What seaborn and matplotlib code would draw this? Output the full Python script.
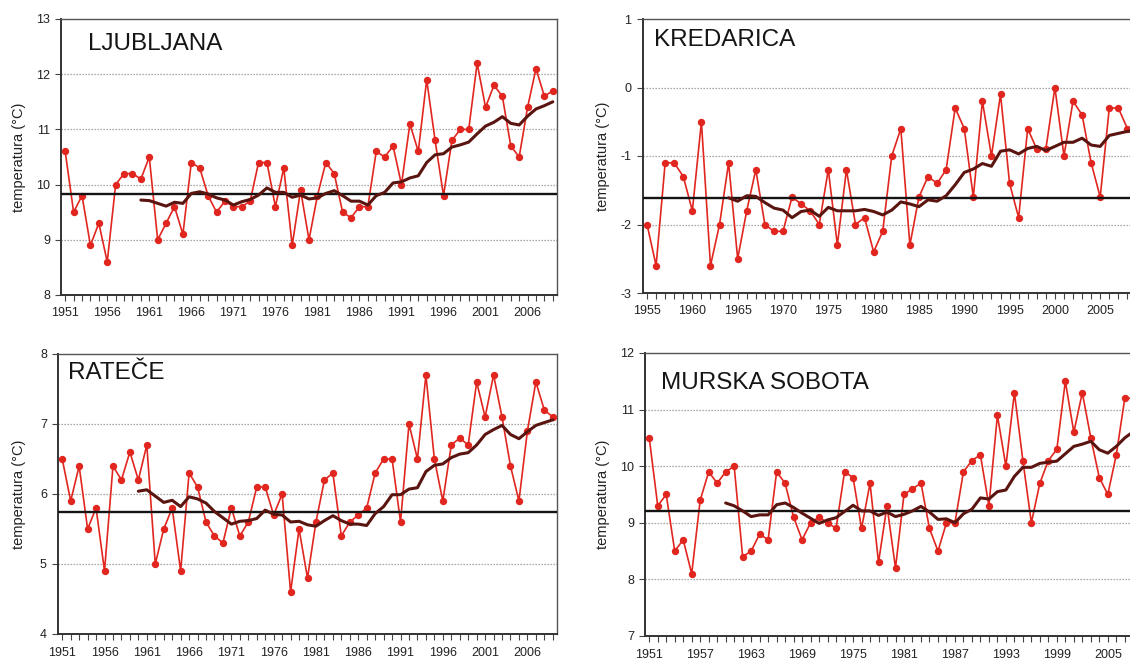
import numpy as np
import pandas as pd
import matplotlib
matplotlib.use("Agg")
import matplotlib.pyplot as plt
from matplotlib.ticker import MultipleLocator, FixedLocator
import seaborn as sns

# Mean annual air temperature at four Slovenian stations
ljubljana_years = list(range(1951, 2010))
ljubljana_temp = [
    10.6, 9.5, 9.8, 8.9, 9.3, 8.6, 10.0, 10.2, 10.2, 10.1,
    10.5, 9.0, 9.3, 9.6, 9.1, 10.4, 10.3, 9.8, 9.5, 9.7,
    9.6, 9.6, 9.7, 10.4, 10.4, 9.6, 10.3, 8.9, 9.9, 9.0,
    9.8, 10.4, 10.2, 9.5, 9.4, 9.6, 9.6, 10.6, 10.5, 10.7,
    10.0, 11.1, 10.6, 11.9, 10.8, 9.8, 10.8, 11.0, 11.0, 12.2,
    11.4, 11.8, 11.6, 10.7, 10.5, 11.4, 12.1, 11.6, 11.7,
]

kredarica_years = list(range(1955, 2010))
kredarica_temp = [
    -2.0, -2.6, -1.1, -1.1, -1.3, -1.8,
    -0.5, -2.6, -2.0, -1.1, -2.5, -1.8, -1.2, -2.0, -2.1, -2.1,
    -1.6, -1.7, -1.8, -2.0, -1.2, -2.3, -1.2, -2.0, -1.9, -2.4,
    -2.1, -1.0, -0.6, -2.3, -1.6, -1.3, -1.4, -1.2, -0.3, -0.6,
    -1.6, -0.2, -1.0, -0.1, -1.4, -1.9, -0.6, -0.9, -0.9, 0.0,
    -1.0, -0.2, -0.4, -1.1, -1.6, -0.3, -0.3, -0.6, -0.7,
]

ratece_years = list(range(1951, 2010))
ratece_temp = [
    6.5, 5.9, 6.4, 5.5, 5.8, 4.9, 6.4, 6.2, 6.6, 6.2,
    6.7, 5.0, 5.5, 5.8, 4.9, 6.3, 6.1, 5.6, 5.4, 5.3,
    5.8, 5.4, 5.6, 6.1, 6.1, 5.7, 6.0, 4.6, 5.5, 4.8,
    5.6, 6.2, 6.3, 5.4, 5.6, 5.7, 5.8, 6.3, 6.5, 6.5,
    5.6, 7.0, 6.5, 7.7, 6.5, 5.9, 6.7, 6.8, 6.7, 7.6,
    7.1, 7.7, 7.1, 6.4, 5.9, 6.9, 7.6, 7.2, 7.1,
]

murska_years = list(range(1951, 2010))
murska_temp = [
    10.5, 9.3, 9.5, 8.5, 8.7, 8.1, 9.4, 9.9, 9.7, 9.9,
    10.0, 8.4, 8.5, 8.8, 8.7, 9.9, 9.7, 9.1, 8.7, 9.0,
    9.1, 9.0, 8.9, 9.9, 9.8, 8.9, 9.7, 8.3, 9.3, 8.2,
    9.5, 9.6, 9.7, 8.9, 8.5, 9.0, 9.0, 9.9, 10.1, 10.2,
    9.3, 10.9, 10.0, 11.3, 10.1, 9.0, 9.7, 10.1, 10.3, 11.5,
    10.6, 11.3, 10.5, 9.8, 9.5, 10.2, 11.2, 11.2, 10.8,
]

station_names = ["LJUBLJANA", "KREDARICA", "RATEČE", "MURSKA SOBOTA"]
y_ranges = [(8, 13), (-3, 1), (4, 8), (7, 12)]
label_starts = [1951, 1955, 1951, 1951]
label_steps = [5, 5, 5, 6]

y_label = "temperatura (°C)"
ref_period = (1961, 1990)
window = 10

RED = "#e0261f"
BROWN = "#5a1510"
W, H = 1130, 661

sns.set_style("white")
plt.rcParams["font.family"] = ["Liberation Sans", "DejaVu Sans"]
plt.rcParams["axes.unicode_minus"] = False

fig = plt.figure(figsize=(W / 100, H / 100), dpi=100)
fig.patch.set_facecolor("white")


def px_box(left, top, right, bottom):
    return [left / W, 1 - bottom / H, (right - left) / W, (bottom - top) / H]


# plot-area boxes in pixels: left, top, right, bottom
boxes = [
    (61, 19, 557, 295),
    (642.5, 19, 1141, 293),
    (58, 354, 557, 634),
    (645, 353, 1146, 636),
]
title_offsets = [(27, 25), (11, 21), (10, 19), (16, 30)]
ylabel_x = [19, 603, 19, 603]

series = [
    (ljubljana_years, ljubljana_temp),
    (kredarica_years, kredarica_temp),
    (ratece_years, ratece_temp),
    (murska_years, murska_temp),
]

for i, ((yrs, temps), name) in enumerate(zip(series, station_names)):
    l, t, r, b = boxes[i]
    ax = fig.add_axes(px_box(l, t, r, b))
    df = pd.DataFrame({"year": yrs, "temp": temps})
    df["run"] = df["temp"].rolling(window).mean()
    ref = df[(df.year >= ref_period[0]) & (df.year <= ref_period[1])]["temp"].mean()

    lo, hi = y_ranges[i]
    for yv in range(lo + 1, hi):
        ax.axhline(yv, color="#8f8f8f", lw=0.9, ls=(0, (1, 1.4)), zorder=1)

    sns.lineplot(data=df, x="year", y="temp", ax=ax, color=RED, lw=1.2,
                 marker="o", markersize=5.3, markeredgewidth=0, zorder=3)
    ax.axhline(ref, color="#141414", lw=1.7, zorder=4)
    run = df.dropna(subset=["run"])
    sns.lineplot(data=run, x="year", y="run", ax=ax, color=BROWN, lw=2.2, zorder=5)

    x0 = yrs[0]
    ax.set_xlim(x0 - 0.5, 2009.5)
    ax.set_ylim(lo, hi)
    ax.set_yticks(range(lo, hi + 1))
    labels = list(range(label_starts[i], 2010, label_steps[i]))
    ax.xaxis.set_major_locator(FixedLocator(labels))
    ax.xaxis.set_minor_locator(MultipleLocator(1))
    ax.set_xlabel("")
    ax.set_ylabel("")
    ax.tick_params(axis="x", which="both", direction="out", length=4, width=0.8,
                   color="#444444", bottom=True, pad=5, labelsize=9, labelcolor="#222222")
    ax.tick_params(axis="y", direction="out", length=4, width=0.8, color="#444444",
                   left=True, pad=4, labelsize=9, labelcolor="#222222")
    for side, sp in ax.spines.items():
        sp.set_visible(True)
        sp.set_color("#555555")
        sp.set_linewidth(1.0)
    ax.spines["left"].set_color("#333333")
    ax.spines["left"].set_linewidth(1.4)
    ax.spines["bottom"].set_color("#333333")
    ax.spines["bottom"].set_linewidth(1.4)

    dx, dy = title_offsets[i]
    fig.text((l + dx) / W, 1 - (t + dy) / H, name, fontsize=17.5, color="#151515",
             ha="left", va="center")
    fig.text(ylabel_x[i] / W, 1 - ((t + b) / 2) / H, y_label, rotation=90,
             fontsize=10.5, color="#222222", ha="center", va="center")

fig.savefig("out.png", dpi=100, facecolor="white")
